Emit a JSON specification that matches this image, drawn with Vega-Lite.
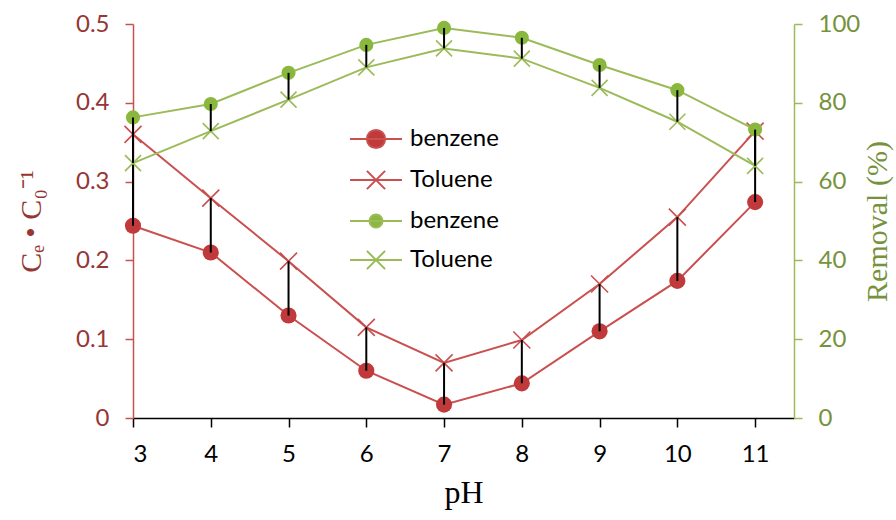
{
  "$schema": "https://vega.github.io/schema/vega-lite/v6.json",
  "width": 661,
  "height": 394,
  "autosize": "none",
  "padding": {"left": 133, "top": 24, "right": 102, "bottom": 102},
  "background": "white",
  "config": {
    "view": {"stroke": null},
    "axis": {"grid": false, "labelFont": "Lato", "titleFont": "Liberation Serif", "titleFontWeight": "normal"},
    "legend": {"labelFont": "Lato"}
  },
  "datasets": {
    "main": [
      {"pH": 3, "b_ce": 0.244, "t_ce": 0.36, "b_rem": 76.3, "t_rem": 64.7},
      {"pH": 4, "b_ce": 0.21, "t_ce": 0.279, "b_rem": 79.7, "t_rem": 72.8},
      {"pH": 5, "b_ce": 0.13, "t_ce": 0.199, "b_rem": 87.6, "t_rem": 80.8},
      {"pH": 6, "b_ce": 0.06, "t_ce": 0.115, "b_rem": 94.7, "t_rem": 89},
      {"pH": 7, "b_ce": 0.017, "t_ce": 0.07, "b_rem": 99, "t_rem": 93.8},
      {"pH": 8, "b_ce": 0.044, "t_ce": 0.099, "b_rem": 96.5, "t_rem": 91.2},
      {"pH": 9, "b_ce": 0.11, "t_ce": 0.17, "b_rem": 89.6, "t_rem": 83.8},
      {"pH": 10, "b_ce": 0.174, "t_ce": 0.255, "b_rem": 83.2, "t_rem": 75.2},
      {"pH": 11, "b_ce": 0.274, "t_ce": 0.364, "b_rem": 73.2, "t_rem": 64}
    ],
    "leg": [{"s": "rb"}, {"s": "rt"}, {"s": "gb"}, {"s": "gt"}]
  },
  "layer": [
    {
      "data": {"name": "main"},
      "encoding": {
        "x": {
          "field": "pH", "type": "quantitative",
          "scale": {"domain": [3, 11.5], "nice": false, "zero": false},
          "axis": {
            "title": "pH", "values": [3, 4, 5, 6, 7, 8, 9, 10, 11],
            "domainColor": "black", "domainWidth": 1.5,
            "tickColor": "black", "tickWidth": 1.5, "tickSize": 9,
            "labelFontSize": 24, "labelColor": "black", "labelPadding": 15,
            "titleFontSize": 32, "titleColor": "black", "titlePadding": 11
          }
        }
      },
      "layer": [
        {
          "mark": {"type": "line", "color": "#C9504F", "strokeWidth": 2},
          "encoding": {"y": {"field": "b_ce", "type": "quantitative", "scale": {"domain": [0, 0.5], "nice": false},
            "axis": {"orient": "left", "title": "Cₑ • C₀⁻¹", "values": [0, 0.1, 0.2, 0.3, 0.4, 0.5], "format": ".1~f",
              "domainColor": "#C9504F", "domainWidth": 1.5, "tickColor": "#C9504F", "tickWidth": 1.5, "tickSize": 8,
              "labelFontSize": 24, "labelColor": "#953735", "labelPadding": 16,
              "titleFontSize": 30, "titleColor": "#953735", "titlePadding": 29}}}
        },
        {
          "mark": {"type": "line", "color": "#C9504F", "strokeWidth": 2},
          "encoding": {"y": {"field": "t_ce", "type": "quantitative", "scale": {"domain": [0, 0.5], "nice": false},
            "axis": {"orient": "left", "title": "Cₑ • C₀⁻¹", "values": [0, 0.1, 0.2, 0.3, 0.4, 0.5], "format": ".1~f",
              "domainColor": "#C9504F", "domainWidth": 1.5, "tickColor": "#C9504F", "tickWidth": 1.5, "tickSize": 8,
              "labelFontSize": 24, "labelColor": "#953735", "labelPadding": 16,
              "titleFontSize": 30, "titleColor": "#953735", "titlePadding": 29}}}
        },
        {
          "mark": {"type": "point", "filled": true, "shape": "circle", "size": 260, "color": "#C0393B", "opacity": 1},
          "encoding": {"y": {"field": "b_ce", "type": "quantitative"}}
        },
        {
          "mark": {"type": "point", "filled": false, "shape": "M-1,-1L1,1M-1,1L1,-1", "size": 289, "color": "#C9504F", "strokeWidth": 1.6, "opacity": 1},
          "encoding": {"y": {"field": "t_ce", "type": "quantitative"}}
        },
        {
          "mark": {"type": "rule", "color": "black", "strokeWidth": 2},
          "encoding": {"y": {"field": "b_ce", "type": "quantitative"}, "y2": {"field": "t_ce"}}
        }
      ]
    },
    {
      "data": {"name": "main"},
      "encoding": {
        "x": {
          "field": "pH", "type": "quantitative",
          "scale": {"domain": [3, 11.5], "nice": false, "zero": false},
          "axis": {
            "title": "pH", "values": [3, 4, 5, 6, 7, 8, 9, 10, 11],
            "domainColor": "black", "domainWidth": 1.5,
            "tickColor": "black", "tickWidth": 1.5, "tickSize": 9,
            "labelFontSize": 24, "labelColor": "black", "labelPadding": 15,
            "titleFontSize": 32, "titleColor": "black", "titlePadding": 11
          }
        }
      },
      "layer": [
        {
          "mark": {"type": "line", "color": "#9BBB59", "strokeWidth": 2},
          "encoding": {"y": {"field": "b_rem", "type": "quantitative", "scale": {"domain": [0, 100], "nice": false},
            "axis": {"orient": "right", "title": "Removal (%)", "values": [0, 20, 40, 60, 80, 100], "titleAngle": 270, "titleBaseline": "top",
              "domainColor": "#9BBB59", "domainWidth": 1.5, "tickColor": "#9BBB59", "tickWidth": 1.5, "tickSize": 8,
              "labelFontSize": 24, "labelColor": "#76923C", "labelPadding": 16,
              "titleFontSize": 30, "titleColor": "#76923C", "titlePadding": 3}}}
        },
        {
          "mark": {"type": "line", "color": "#9BBB59", "strokeWidth": 2},
          "encoding": {"y": {"field": "t_rem", "type": "quantitative", "scale": {"domain": [0, 100], "nice": false},
            "axis": {"orient": "right", "title": "Removal (%)", "values": [0, 20, 40, 60, 80, 100], "titleAngle": 270, "titleBaseline": "top",
              "domainColor": "#9BBB59", "domainWidth": 1.5, "tickColor": "#9BBB59", "tickWidth": 1.5, "tickSize": 8,
              "labelFontSize": 24, "labelColor": "#76923C", "labelPadding": 16,
              "titleFontSize": 30, "titleColor": "#76923C", "titlePadding": 3}}}
        },
        {
          "mark": {"type": "point", "filled": true, "shape": "circle", "size": 200, "color": "#8AB83E", "opacity": 1},
          "encoding": {"y": {"field": "b_rem", "type": "quantitative"}}
        },
        {
          "mark": {"type": "point", "filled": false, "shape": "M-1,-1L1,1M-1,1L1,-1", "size": 256, "color": "#9BBB59", "strokeWidth": 1.6, "opacity": 1},
          "encoding": {"y": {"field": "t_rem", "type": "quantitative"}}
        },
        {
          "mark": {"type": "rule", "color": "black", "strokeWidth": 2},
          "encoding": {"y": {"field": "t_rem", "type": "quantitative"}, "y2": {"field": "b_rem"}}
        }
      ]
    },
    {
      "data": {"name": "leg"},
      "mark": {"type": "point", "filled": true, "opacity": 0, "strokeWidth": 2},
      "encoding": {
        "color": {"field": "s", "type": "nominal",
          "scale": {"domain": ["rb", "rt", "gb", "gt"], "range": ["#C0393B", "#C9504F", "#8AB83E", "#9BBB59"]},
          "legend": {"orient": "none", "legendX": 216, "legendY": 88, "title": null,
            "labelExpr": "(datum.value == 'rb' || datum.value == 'gb') ? 'benzene' : 'Toluene'",
            "labelFontSize": 24, "labelColor": "black", "symbolSize": 2704, "symbolStrokeWidth": 2, "symbolOpacity": 1,
            "labelOffset": 7, "rowPadding": 0}},
        "stroke": {"field": "s", "type": "nominal",
          "scale": {"domain": ["rb", "rt", "gb", "gt"], "range": ["#C9504F", "#C9504F", "#9BBB59", "#9BBB59"]},
          "legend": {"orient": "none", "legendX": 216, "legendY": 88, "title": null,
            "labelExpr": "(datum.value == 'rb' || datum.value == 'gb') ? 'benzene' : 'Toluene'",
            "labelFontSize": 24, "labelColor": "black", "symbolSize": 2704, "symbolStrokeWidth": 2, "symbolOpacity": 1,
            "labelOffset": 7, "rowPadding": 0}},
        "shape": {"field": "s", "type": "nominal",
          "scale": {"domain": ["rb", "rt", "gb", "gt"], "range": [
            "M-1,0H1M0.35,0A0.35,0.35 0 1,1 -0.35,0A0.35,0.35 0 1,1 0.35,0Z",
            "M-1,0H1M-0.35,-0.35L0.35,0.35M-0.35,0.35L0.35,-0.35",
            "M-1,0H1M0.25,0A0.25,0.25 0 1,1 -0.25,0A0.25,0.25 0 1,1 0.25,0Z",
            "M-1,0H1M-0.35,-0.35L0.35,0.35M-0.35,0.35L0.35,-0.35"]},
          "legend": {"orient": "none", "legendX": 216, "legendY": 88, "title": null,
            "labelExpr": "(datum.value == 'rb' || datum.value == 'gb') ? 'benzene' : 'Toluene'",
            "labelFontSize": 24, "labelColor": "black", "symbolSize": 2704, "symbolStrokeWidth": 2, "symbolOpacity": 1,
            "labelOffset": 7, "rowPadding": 0}}
      }
    }
  ],
  "resolve": {"scale": {"y": "independent"}}
}
